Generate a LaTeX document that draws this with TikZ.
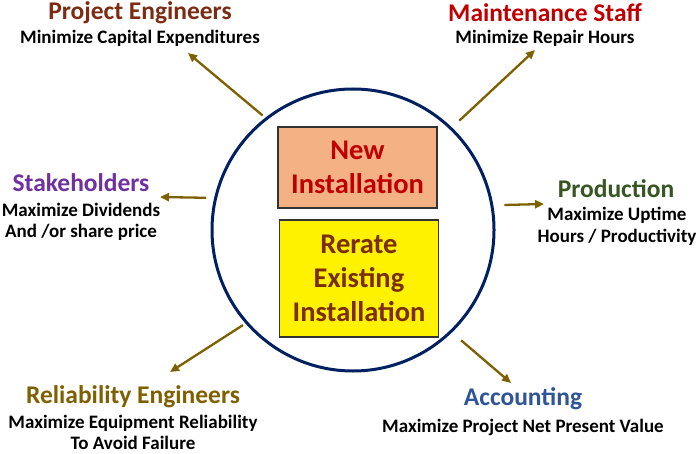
\documentclass[tikz,border=0pt]{standalone}
\usepackage{fontspec}
\setmainfont{Carlito}
\usepackage{xcolor}
\usetikzlibrary{arrows.meta,positioning}

\definecolor{navy}{HTML}{002060}
\definecolor{arrbrown}{HTML}{7F6000}
\definecolor{pecol}{HTML}{7B2C12}
\definecolor{mscol}{HTML}{C00000}
\definecolor{shcol}{HTML}{7030A0}
\definecolor{prcol}{HTML}{375623}
\definecolor{recol}{HTML}{7F6000}
\definecolor{accol}{HTML}{2F5597}
\definecolor{salmon}{HTML}{F4B183}
\definecolor{rrtext}{HTML}{7B2C00}

\begin{document}
\begin{tikzpicture}[x=1pt, y=-1pt,
  every node/.style={font=\bfseries},
  grp/.style={font=\bfseries\fontsize{25.5}{28}\selectfont, inner sep=0pt},
  goal/.style={font=\bfseries\fontsize{19}{21.5}\selectfont, align=center, inner sep=0pt},
  inst/.style={draw=black!80, line width=1.2pt, minimum width=159pt, align=center,
               font=\bfseries\fontsize{28.5}{34}\selectfont, inner sep=0pt},
  arr/.style={-{Triangle[length=9pt,width=8pt]}, line width=2.3pt, arrbrown}
]
\useasboundingbox (0,0) rectangle (700,454);

% centre
\node[draw=navy, line width=3pt, circle, minimum size=282pt, inner sep=0pt] (hub) at (353,230) {};
\node[inst, fill=salmon, text=mscol, minimum height=81pt] (new) at (357.5,167.5) {New\\Installation};
\node[inst, fill=yellow, text=rrtext, minimum height=117pt] (rerate) at (359,278.5) {Rerate\\Existing\\Installation};

% groups
\node[grp, text=pecol] (pe) at (140,13) {Project Engineers};
\node[goal] (peGoal) at (140,38) {Minimize Capital Expenditures};
\node[grp, text=mscol] (ms) at (545,13) {Maintenance Staff};
\node[goal] (msGoal) at (545,38) {Minimize Repair Hours};
\node[grp, text=shcol] (sh) at (81,183) {Stakeholders};
\node[goal] (shGoal) at (81,222) {Maximize Dividends\\And /or share price};
\node[grp, text=prcol] (pr) at (616,189) {Production};
\node[goal] (prGoal) at (617,226.5) {Maximize Uptime\\Hours / Productivity};
\node[grp, text=recol] (re) at (133,397) {Reliability Engineers};
\node[goal] (reGoal) at (133,432.5) {Maximize Equipment Reliability\\To Avoid Failure};
\node[grp, text=accol] (ac) at (523,399) {Accounting};
\node[goal] (acGoal) at (523,427) {Maximize Project Net Present Value};

% arrow ends
\coordinate (peTip) at (188,53);
\coordinate (msTip) at (535,50);
\coordinate (shTip) at (160,197);
\coordinate (prTip) at (544,204);
\coordinate (reTip) at (170,372);
\coordinate (acTip) at (511,383);

\draw[arr, shorten <=3.5pt] (hub.128.5) -- (peTip);
\draw[arr, shorten <=10pt] (hub.46.9) -- (msTip);
\draw[arr, shorten <=8pt] (hub.167) -- (shTip);
\draw[arr, shorten <=11pt] (hub.10.6) -- (prTip);
\draw[arr, shorten <=3pt] (hub.221.3) -- (reTip);
\draw[arr, shorten <=12pt] (hub.314.5) -- (acTip);
\end{tikzpicture}
\end{document}
